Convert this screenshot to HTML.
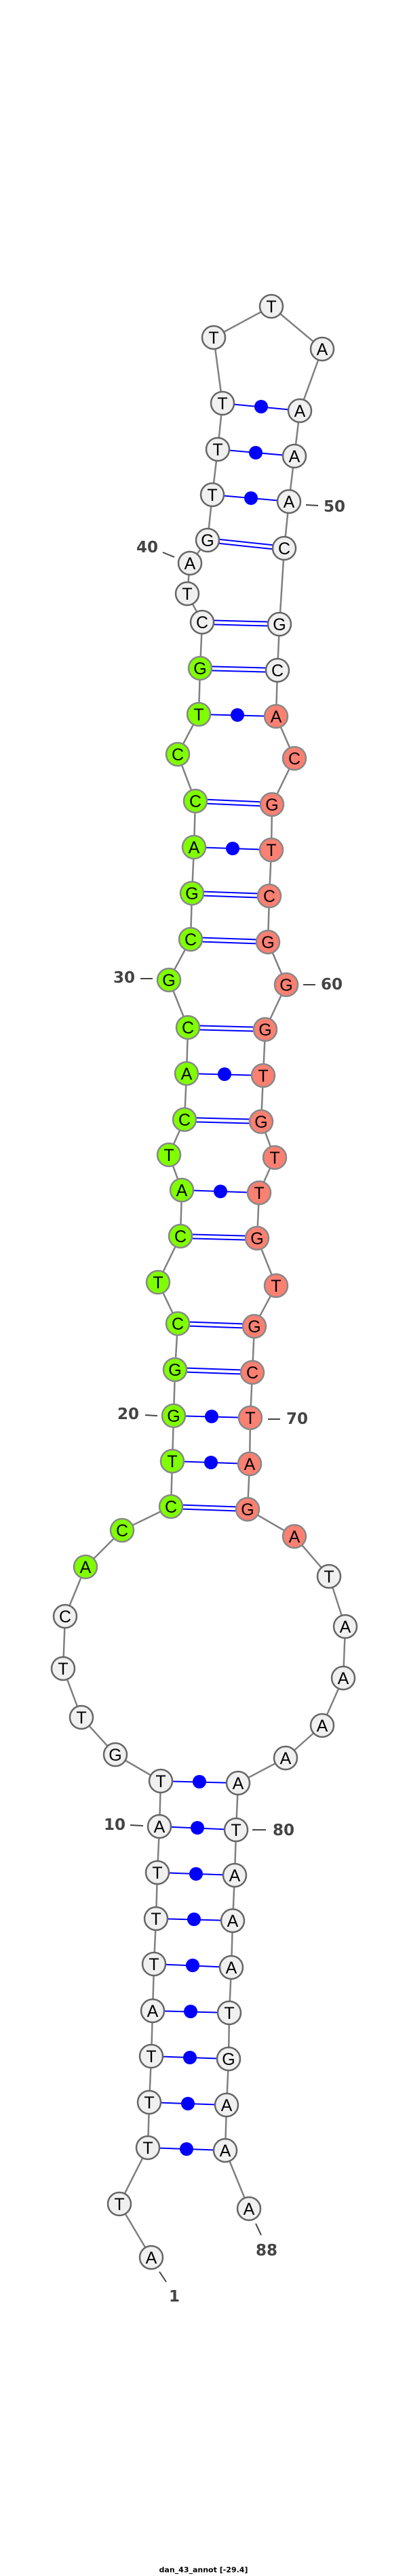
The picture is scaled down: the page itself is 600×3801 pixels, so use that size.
<!DOCTYPE html>
<html><head><meta charset="utf-8"><style>
html,body{margin:0;padding:0;background:#fff;}
svg{display:block;}
.n text{font-family:"Liberation Sans",sans-serif;font-size:25px;text-anchor:middle;dominant-baseline:central;fill:#000;}
.lab{font-family:"DejaVu Sans","Liberation Sans",sans-serif;font-size:23px;font-weight:bold;fill:#444;text-anchor:middle;dominant-baseline:central;}
</style></head><body>
<svg width="600" height="3801" viewBox="0 0 600 3801" xmlns="http://www.w3.org/2000/svg">
<polyline fill="none" stroke="#808080" stroke-width="2.5" points="223,3331 176,3252 218,3169 220,3102 223,3034 225,2967 227,2898 230,2831 232,2763 235,2695 237,2628 170,2589 120,2534 93,2462 96,2385 126,2312 180,2258 252,2223 254,2156 256,2089 258,2021 262,1953 233,1892 266,1824 268,1756 249,1704 272,1652 275,1584 277,1516 249,1446 281,1386 283,1318 286,1250 288,1182 262,1113 293,1054 295,986 298,918 276,876 280,831 306,797 313,730 321,663 328,595 315,498 400,452 475,515 442,606 434,673 426,740 419,809 412,921 409,989 407,1057 434,1119 401,1187 400,1254 397,1322 395,1390 422,1453 391,1519 388,1587 385,1655 405,1708 382,1760 379,1827 407,1897 375,1957 372,2025 369,2092 368,2160 365,2227 434,2267 485,2326 509,2400 506,2476 475,2546 421,2594 351,2631 348,2700 346,2767 343,2834 341,2903 338,2970 337,3038 334,3106 332,3173 367,3259"/>
<g stroke="#0000ff" stroke-width="2">
<!-- single pairs -->
<line x1="218" y1="3169" x2="332" y2="3173"/><line x1="220" y1="3102" x2="334" y2="3106"/><line x1="223" y1="3034" x2="337" y2="3038"/><line x1="225" y1="2967" x2="338" y2="2970"/><line x1="227" y1="2898" x2="341" y2="2903"/><line x1="230" y1="2831" x2="343" y2="2834"/><line x1="232" y1="2763" x2="346" y2="2767"/><line x1="235" y1="2695" x2="348" y2="2700"/><line x1="237" y1="2628" x2="351" y2="2631"/>
<line x1="254" y1="2156" x2="368" y2="2160"/><line x1="256" y1="2089" x2="369" y2="2092"/><line x1="268" y1="1756" x2="382" y2="1760"/><line x1="275" y1="1584" x2="388" y2="1587"/><line x1="286" y1="1250" x2="400" y2="1254"/><line x1="293" y1="1054" x2="407" y2="1057"/><line x1="313" y1="730" x2="426" y2="740"/><line x1="321" y1="663" x2="434" y2="673"/><line x1="328" y1="595" x2="442" y2="606"/>
<!-- double pairs -->
<line x1="252" y1="2220" x2="365" y2="2224"/><line x1="252" y1="2226" x2="365" y2="2230"/>
<line x1="258" y1="2018" x2="372" y2="2022"/><line x1="258" y1="2024" x2="372" y2="2028"/>
<line x1="262" y1="1950" x2="375" y2="1954"/><line x1="262" y1="1956" x2="375" y2="1960"/>
<line x1="266" y1="1821" x2="379" y2="1824"/><line x1="266" y1="1827" x2="379" y2="1830"/>
<line x1="272" y1="1649" x2="385" y2="1652"/><line x1="272" y1="1655" x2="385" y2="1658"/>
<line x1="277" y1="1513" x2="391" y2="1516"/><line x1="277" y1="1519" x2="391" y2="1522"/>
<line x1="281" y1="1383" x2="395" y2="1387"/><line x1="281" y1="1389" x2="395" y2="1393"/>
<line x1="283" y1="1315" x2="397" y2="1319"/><line x1="283" y1="1321" x2="397" y2="1325"/>
<line x1="288" y1="1179" x2="401" y2="1184"/><line x1="288" y1="1185" x2="401" y2="1190"/>
<line x1="295" y1="983" x2="409" y2="986"/><line x1="295" y1="989" x2="409" y2="992"/>
<line x1="298" y1="915" x2="412" y2="918"/><line x1="298" y1="921" x2="412" y2="924"/>
<line x1="306" y1="794" x2="419" y2="806"/><line x1="306" y1="800" x2="419" y2="812"/>
</g>
<g fill="#0000ff">
<circle cx="275" cy="3171" r="10"/><circle cx="277" cy="3104" r="10"/><circle cx="280" cy="3036" r="10"/><circle cx="281" cy="2968" r="10"/><circle cx="284" cy="2900" r="10"/><circle cx="286" cy="2832" r="10"/><circle cx="289" cy="2765" r="10"/><circle cx="291" cy="2697" r="10"/><circle cx="294" cy="2629" r="10"/>
<circle cx="311" cy="2158" r="10"/><circle cx="312" cy="2090" r="10"/><circle cx="325" cy="1758" r="10"/><circle cx="331" cy="1585" r="10"/><circle cx="343" cy="1252" r="10"/><circle cx="350" cy="1055" r="10"/><circle cx="370" cy="735" r="10"/><circle cx="377" cy="668" r="10"/><circle cx="385" cy="600" r="10"/>
</g>
<g class="n">
<g stroke="#666" stroke-width="2.5" fill="#f0f0f0">
<circle cx="223" cy="3331" r="17"/><circle cx="176" cy="3252" r="17"/><circle cx="218" cy="3169" r="17"/><circle cx="220" cy="3102" r="17"/><circle cx="223" cy="3034" r="17"/><circle cx="225" cy="2967" r="17"/><circle cx="227" cy="2898" r="17"/><circle cx="230" cy="2831" r="17"/><circle cx="232" cy="2763" r="17"/><circle cx="235" cy="2695" r="17"/><circle cx="237" cy="2628" r="17"/><circle cx="170" cy="2589" r="17"/><circle cx="120" cy="2534" r="17"/><circle cx="93" cy="2462" r="17"/><circle cx="96" cy="2385" r="17"/>
<circle cx="298" cy="918" r="17"/><circle cx="276" cy="876" r="17"/><circle cx="280" cy="831" r="17"/><circle cx="306" cy="797" r="17"/><circle cx="313" cy="730" r="17"/><circle cx="321" cy="663" r="17"/><circle cx="328" cy="595" r="17"/><circle cx="315" cy="498" r="17"/><circle cx="400" cy="452" r="17"/><circle cx="475" cy="515" r="17"/><circle cx="442" cy="606" r="17"/><circle cx="434" cy="673" r="17"/><circle cx="426" cy="740" r="17"/><circle cx="419" cy="809" r="17"/><circle cx="412" cy="921" r="17"/><circle cx="409" cy="989" r="17"/>
<circle cx="485" cy="2326" r="17"/><circle cx="509" cy="2400" r="17"/><circle cx="506" cy="2476" r="17"/><circle cx="475" cy="2546" r="17"/><circle cx="421" cy="2594" r="17"/><circle cx="351" cy="2631" r="17"/><circle cx="348" cy="2700" r="17"/><circle cx="346" cy="2767" r="17"/><circle cx="343" cy="2834" r="17"/><circle cx="341" cy="2903" r="17"/><circle cx="338" cy="2970" r="17"/><circle cx="337" cy="3038" r="17"/><circle cx="334" cy="3106" r="17"/><circle cx="332" cy="3173" r="17"/><circle cx="367" cy="3259" r="17"/>
</g>
<g stroke="#888" stroke-width="2.5" fill="#7fff00">
<circle cx="126" cy="2312" r="17"/><circle cx="180" cy="2258" r="17"/><circle cx="252" cy="2223" r="17"/><circle cx="254" cy="2156" r="17"/><circle cx="256" cy="2089" r="17"/><circle cx="258" cy="2021" r="17"/><circle cx="262" cy="1953" r="17"/><circle cx="233" cy="1892" r="17"/><circle cx="266" cy="1824" r="17"/><circle cx="268" cy="1756" r="17"/><circle cx="249" cy="1704" r="17"/><circle cx="272" cy="1652" r="17"/><circle cx="275" cy="1584" r="17"/><circle cx="277" cy="1516" r="17"/><circle cx="249" cy="1446" r="17"/><circle cx="281" cy="1386" r="17"/><circle cx="283" cy="1318" r="17"/><circle cx="286" cy="1250" r="17"/><circle cx="288" cy="1182" r="17"/><circle cx="262" cy="1113" r="17"/><circle cx="293" cy="1054" r="17"/><circle cx="295" cy="986" r="17"/>
</g>
<g stroke="#888" stroke-width="2.5" fill="#fa8072">
<circle cx="407" cy="1057" r="17"/><circle cx="434" cy="1119" r="17"/><circle cx="401" cy="1187" r="17"/><circle cx="400" cy="1254" r="17"/><circle cx="397" cy="1322" r="17"/><circle cx="395" cy="1390" r="17"/><circle cx="422" cy="1453" r="17"/><circle cx="391" cy="1519" r="17"/><circle cx="388" cy="1587" r="17"/><circle cx="385" cy="1655" r="17"/><circle cx="405" cy="1708" r="17"/><circle cx="382" cy="1760" r="17"/><circle cx="379" cy="1827" r="17"/><circle cx="407" cy="1897" r="17"/><circle cx="375" cy="1957" r="17"/><circle cx="372" cy="2025" r="17"/><circle cx="369" cy="2092" r="17"/><circle cx="368" cy="2160" r="17"/><circle cx="365" cy="2227" r="17"/><circle cx="434" cy="2267" r="17"/>
</g>
<text x="223" y="3332">A</text><text x="176" y="3253">T</text><text x="218" y="3170">T</text><text x="220" y="3103">T</text><text x="223" y="3035">T</text><text x="225" y="2968">A</text><text x="227" y="2899">T</text><text x="230" y="2832">T</text><text x="232" y="2764">T</text><text x="235" y="2696">A</text><text x="237" y="2629">T</text><text x="170" y="2590">G</text><text x="120" y="2535">T</text><text x="93" y="2463">T</text><text x="96" y="2386">C</text>
<text x="126" y="2313">A</text><text x="180" y="2259">C</text><text x="252" y="2224">C</text><text x="254" y="2157">T</text><text x="256" y="2090">G</text><text x="258" y="2022">G</text><text x="262" y="1954">C</text><text x="233" y="1893">T</text><text x="266" y="1825">C</text><text x="268" y="1757">A</text><text x="249" y="1705">T</text><text x="272" y="1653">C</text><text x="275" y="1585">A</text><text x="277" y="1517">C</text><text x="249" y="1447">G</text><text x="281" y="1387">C</text><text x="283" y="1319">G</text><text x="286" y="1251">A</text><text x="288" y="1183">C</text><text x="262" y="1114">C</text><text x="293" y="1055">T</text><text x="295" y="987">G</text>
<text x="298" y="919">C</text><text x="276" y="877">T</text><text x="280" y="832">A</text><text x="306" y="798">G</text><text x="313" y="731">T</text><text x="321" y="664">T</text><text x="328" y="596">T</text><text x="315" y="499">T</text><text x="400" y="453">T</text><text x="475" y="516">A</text><text x="442" y="607">A</text><text x="434" y="674">A</text><text x="426" y="741">A</text><text x="419" y="810">C</text><text x="412" y="922">G</text><text x="409" y="990">C</text>
<text x="407" y="1058">A</text><text x="434" y="1120">C</text><text x="401" y="1188">G</text><text x="400" y="1255">T</text><text x="397" y="1323">C</text><text x="395" y="1391">G</text><text x="422" y="1454">G</text><text x="391" y="1520">G</text><text x="388" y="1588">T</text><text x="385" y="1656">G</text><text x="405" y="1709">T</text><text x="382" y="1761">T</text><text x="379" y="1828">G</text><text x="407" y="1898">T</text><text x="375" y="1958">G</text><text x="372" y="2026">C</text><text x="369" y="2093">T</text><text x="368" y="2161">A</text><text x="365" y="2228">G</text><text x="434" y="2268">A</text>
<text x="485" y="2327">T</text><text x="509" y="2401">A</text><text x="506" y="2477">A</text><text x="475" y="2547">A</text><text x="421" y="2595">A</text><text x="351" y="2632">A</text><text x="348" y="2701">T</text><text x="346" y="2768">A</text><text x="343" y="2835">A</text><text x="341" y="2904">A</text><text x="338" y="2971">T</text><text x="337" y="3039">G</text><text x="334" y="3107">A</text><text x="332" y="3174">A</text><text x="367" y="3260">A</text>
</g>
<g stroke="#444" stroke-width="2">
<line x1="235" y1="3352" x2="245" y2="3367"/><line x1="377" y1="3281" x2="385" y2="3298"/>
<line x1="192" y1="2693" x2="211" y2="2694"/><line x1="372" y1="2700" x2="392" y2="2700"/>
<line x1="214" y1="2088" x2="232" y2="2089"/><line x1="395" y1="2094" x2="413" y2="2094"/>
<line x1="207" y1="1444" x2="225" y2="1444"/><line x1="447" y1="1453" x2="465" y2="1453"/>
<line x1="240" y1="815" x2="257" y2="822"/><line x1="451" y1="745" x2="469" y2="746"/>
</g>
<text class="lab" x="257" y="3389">1</text><text class="lab" x="393" y="3321">88</text>
<text class="lab" x="169" y="2693">10</text><text class="lab" x="418" y="2701">80</text>
<text class="lab" x="189" y="2087">20</text><text class="lab" x="438" y="2094">70</text>
<text class="lab" x="183" y="1443">30</text><text class="lab" x="489" y="1453">60</text>
<text class="lab" x="217" y="808">40</text><text class="lab" x="493" y="748">50</text>
<text x="300" y="3792" font-family="DejaVu Sans, Liberation Sans, sans-serif" font-size="11" font-weight="bold" text-anchor="middle" dominant-baseline="central" fill="#000">dan_43_annot [-29.4]</text>
</svg>
</body></html>
